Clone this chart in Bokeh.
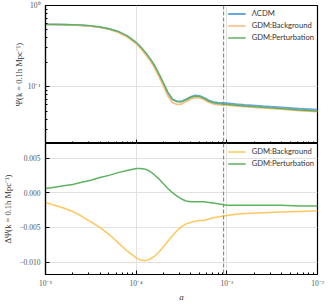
import numpy as np
from bokeh.plotting import figure
from bokeh.layouts import column
from bokeh.models import Range1d, FixedTicker, CustomJSTickFormatter, Span
from bokeh.embed import file_html
from bokeh.resources import INLINE

# ---- data ----
log10_a = [-5.0, -4.9, -4.8, -4.7, -4.6, -4.5, -4.4, -4.3, -4.2, -4.1, -4.0,
           -3.95, -3.9, -3.85, -3.8, -3.75, -3.7, -3.65, -3.6, -3.55, -3.5,
           -3.45, -3.4, -3.35, -3.3, -3.25, -3.2, -3.15, -3.1, -3.05, -3.0,
           -2.9, -2.8, -2.6, -2.4, -2.2, -2.0]

psi_lcdm = [0.585, 0.584, 0.582, 0.578, 0.571, 0.560, 0.542, 0.515, 0.476, 0.420, 0.348,
            0.305, 0.262, 0.222, 0.182, 0.143, 0.110, 0.084, 0.070, 0.066, 0.066,
            0.070, 0.075, 0.078, 0.077, 0.073, 0.068, 0.065, 0.0635, 0.063, 0.0625,
            0.061, 0.0598, 0.0575, 0.0555, 0.0535, 0.052]

dpsi_background = [-0.0014, -0.0018, -0.0022, -0.0027, -0.0034, -0.0042, -0.0050, -0.0060, -0.0072, -0.0084, -0.0094,
                   -0.0097, -0.0098, -0.0096, -0.0092, -0.0086, -0.0078, -0.0070, -0.0062, -0.0055, -0.0049,
                   -0.0045, -0.0043, -0.0041, -0.0040, -0.0040, -0.0038, -0.0036, -0.0035, -0.0034, -0.0033,
                   -0.0031, -0.0030, -0.0029, -0.0028, -0.0027, -0.0026]

dpsi_perturbation = [0.0006, 0.0008, 0.0010, 0.0012, 0.0015, 0.0018, 0.0022, 0.0025, 0.0029, 0.0032, 0.0035,
                     0.0035, 0.0034, 0.0031, 0.0026, 0.0020, 0.0013, 0.0006, 0.0000, -0.0005, -0.0009,
                     -0.0012, -0.0013, -0.0013, -0.0013, -0.0013, -0.0014, -0.0015, -0.0016, -0.0017, -0.0018,
                     -0.0018, -0.0018, -0.0018, -0.0018, -0.0019, -0.0019]

a_rec = 9.2e-4

x_ticks = [1e-5, 1e-4, 1e-3, 1e-2]
y1_ticks = [0.1, 1.0]
y2_ticks = [-0.010, -0.005, 0.0, 0.005]

labels = ["ΛCDM", "GDM:Background", "GDM:Perturbation"]
ylabel_top = "Ψ(k = 0.1h Mpc⁻¹)"
ylabel_bottom = "ΔΨ(k = 0.1h Mpc⁻¹)"
xlabel = "a"

# ---- derived ----
a = 10 ** np.array(log10_a)
psi_bg = np.array(psi_lcdm) + np.array(dpsi_background)
psi_pert = np.array(psi_lcdm) + np.array(dpsi_perturbation)

BLUE = "#69a7d9"
ORANGE_TOP = "#fdb97a"
ORANGE_BOT = "#fec85e"
GREEN = "#5fb25f"
GRID = "#e2e2e2"
SERIF = "Liberation Serif"
SANS = "Lato"

x_minor = [k * 10.0 ** e for e in (-5, -4, -3) for k in range(2, 10)]
y1_minor = [k * 10.0 ** e for e in (-2, -1) for k in range(2, 10)]

sup_fmt = CustomJSTickFormatter(code="""
const e = Math.round(Math.log10(tick));
const sup = {"-": "\\u207b", "0": "\\u2070", "1": "\\u00b9", "2": "\\u00b2", "3": "\\u00b3",
             "4": "\\u2074", "5": "\\u2075", "6": "\\u2076", "7": "\\u2077", "8": "\\u2078", "9": "\\u2079"};
return "10" + String(e).split("").map(c => sup[c]).join("");
""")
dec_fmt = CustomJSTickFormatter(code="""
if (Math.abs(tick) < 1e-12) return "0.000";
return (tick < 0 ? "\\u2212" : "") + Math.abs(tick).toFixed(3);
""")
empty_fmt = CustomJSTickFormatter(code="return '';")

x_range = Range1d(1e-5, 1e-2)

LEFT = 45
RIGHT = 9
FIG_W = 326


def style(p):
    p.outline_line_color = "black"
    p.outline_line_width = 1.2
    p.background_fill_color = "white"
    p.border_fill_color = "white"
    for ax in (p.xaxis[0], p.yaxis[0]):
        ax.axis_line_color = "black"
        ax.axis_line_width = 1.2
        ax.major_tick_in = 4
        ax.major_tick_out = 0
        ax.minor_tick_in = 2
        ax.minor_tick_out = 0
        ax.major_tick_line_color = "black"
        ax.minor_tick_line_color = "black"
        ax.major_label_text_font = SERIF
        ax.major_label_text_font_size = "7.5px"
        ax.major_label_text_color = "#555555"
        ax.major_label_standoff = 5
        ax.axis_label_text_font = SERIF
        ax.axis_label_text_font_size = "8.5px"
        ax.axis_label_text_font_style = "normal"
        ax.axis_label_text_color = "#333333"
        ax.axis_label_standoff = 3
    p.xgrid.grid_line_color = GRID
    p.ygrid.grid_line_color = GRID
    p.xgrid.grid_line_width = 1
    p.ygrid.grid_line_width = 1
    p.xaxis.ticker = FixedTicker(ticks=x_ticks, minor_ticks=x_minor)
    p.add_layout(Span(location=a_rec, dimension="height", line_color="#8a8a8a",
                      line_dash="4 2", line_width=1.2))


def style_legend(p):
    lg = p.legend[0]
    lg.location = "top_right"
    lg.border_line_color = None
    lg.background_fill_alpha = 0
    lg.label_text_font = SANS
    lg.label_text_font_size = "7.6px"
    lg.label_text_color = "#333333"
    lg.glyph_width = 18
    lg.glyph_height = 9
    lg.label_height = 9
    lg.spacing = 2
    lg.padding = 4
    lg.margin = 3
    lg.label_standoff = 6


p1 = figure(width=FIG_W, height=143, x_axis_type="log", y_axis_type="log",
            x_range=x_range, y_range=Range1d(0.02, 1.0),
            output_backend="svg", toolbar_location=None,
            min_border_left=LEFT, min_border_right=RIGHT, min_border_top=5, min_border_bottom=0)
style(p1)
p1.line(a, psi_lcdm, line_color=BLUE, line_width=1.9, legend_label=labels[0])
p1.line(a, psi_bg, line_color=ORANGE_TOP, line_width=1.6, legend_label=labels[1])
p1.line(a, psi_pert, line_color=GREEN, line_width=1.4, legend_label=labels[2])
p1.yaxis.ticker = FixedTicker(ticks=y1_ticks, minor_ticks=y1_minor)
p1.yaxis.formatter = sup_fmt
p1.yaxis.axis_label = ylabel_top
p1.yaxis.axis_label_standoff = 1
p1.xaxis.formatter = empty_fmt
p1.xaxis.major_label_text_font_size = "0px"
p1.xaxis.major_label_standoff = 0
style_legend(p1)

p2 = figure(width=FIG_W, height=161, x_axis_type="log",
            x_range=x_range, y_range=Range1d(-0.0118, 0.0071),
            output_backend="svg", toolbar_location=None,
            min_border_left=LEFT, min_border_right=RIGHT, min_border_top=0, min_border_bottom=25)
style(p2)
p2.line(a, dpsi_background, line_color=ORANGE_BOT, line_width=1.5, legend_label=labels[1])
p2.line(a, dpsi_perturbation, line_color=GREEN, line_width=1.5, legend_label=labels[2])
p2.yaxis.ticker = FixedTicker(ticks=y2_ticks, minor_ticks=[])
p2.yaxis.formatter = dec_fmt
p2.yaxis.axis_label = ylabel_bottom
p2.yaxis.axis_label_standoff = 3
p2.xaxis.formatter = sup_fmt
p2.xaxis.axis_label = xlabel
p2.xaxis.axis_label_text_font_style = "italic"
p2.xaxis.axis_label_text_font_size = "9px"
p2.xaxis.axis_label_standoff = 1
p2.xaxis.major_label_standoff = 4
style_legend(p2)

layout = column(p1, p2, spacing=0)
open("out.html", "w").write(file_html(layout, INLINE))
